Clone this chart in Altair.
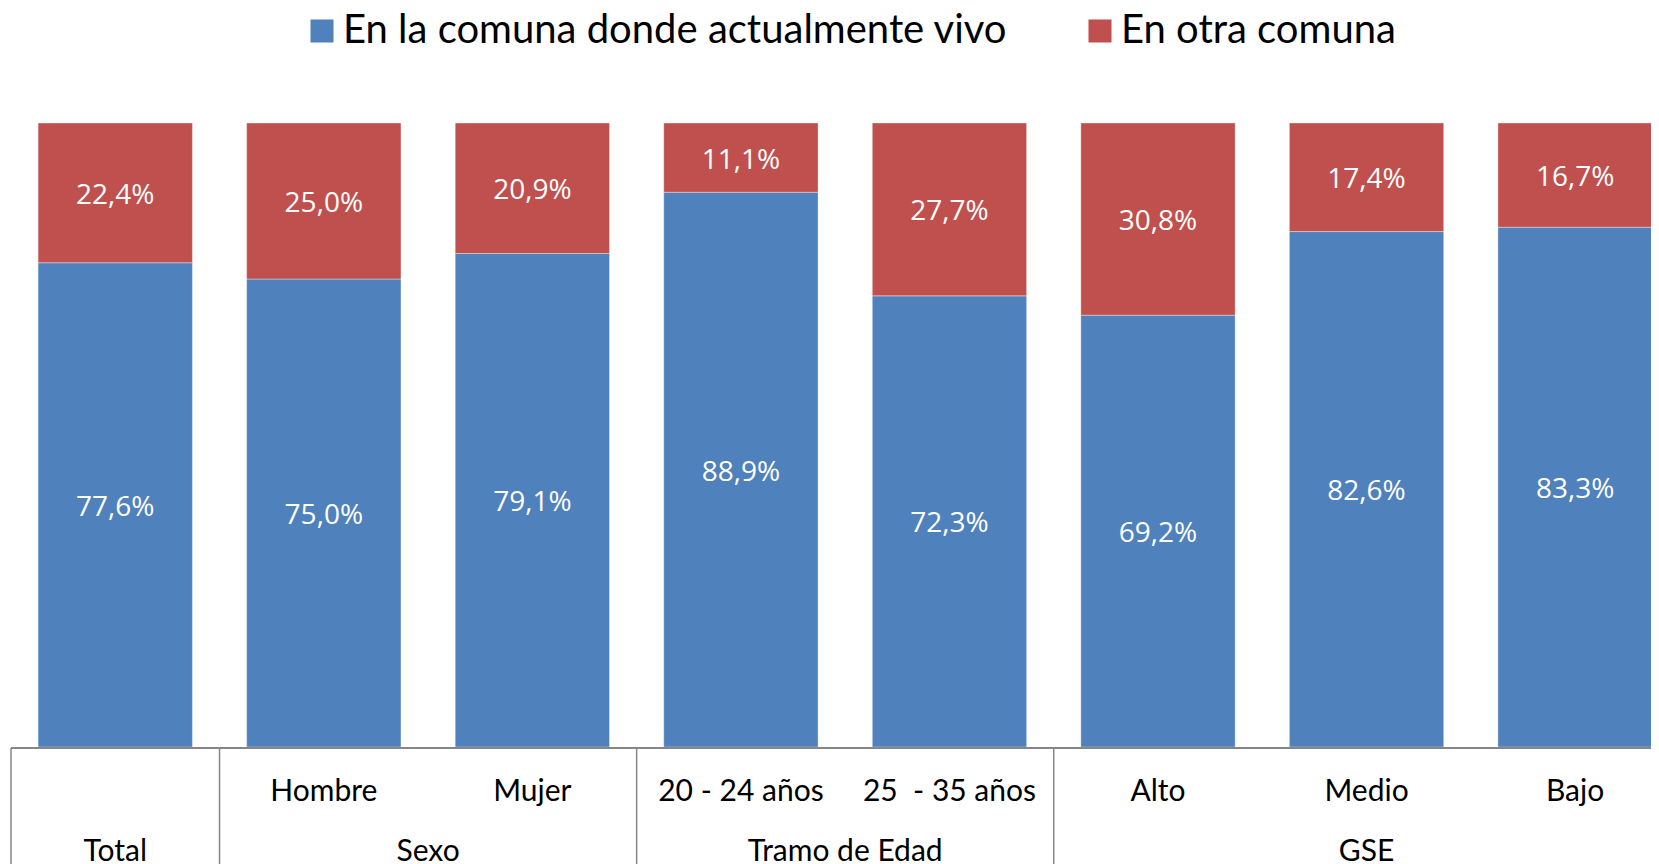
import altair as alt
import pandas as pd

categorias = ["Total", "Hombre", "Mujer", "20 - 24 años", "25\u00a0 - 35 años", "Alto", "Medio", "Bajo"]
en_comuna = [77.6, 75.0, 79.1, 88.9, 72.3, 69.2, 82.6, 83.3]
otra_comuna = [22.4, 25.0, 20.9, 11.1, 27.7, 30.8, 17.4, 16.7]
series = ["En la comuna donde actualmente vivo", "En otra comuna"]
colores = ["#4F81BD", "#C0504D"]
grupos = ["Total", "Sexo", "Tramo de Edad", "GSE"]
grupo_inicio = [0, 1, 3, 5]
grupo_fin = [0, 2, 4, 7]

W = 1640
H = 624

rows = []
for i, c in enumerate(categorias):
    rows.append({"categoria": c, "idx": i, "serie": series[0], "orden": 0, "value": en_comuna[i]})
    rows.append({"categoria": c, "idx": i, "serie": series[1], "orden": 1, "value": otra_comuna[i]})
df = pd.DataFrame(rows)

# category labels of the first axis row (single-category groups show only the group label)
df_cat = pd.DataFrame({"categoria": categorias, "idx": list(range(len(categorias)))})
df_cat_axis = df_cat[~df_cat["categoria"].isin(grupos)]
df_grp = pd.DataFrame({"grupo": grupos, "inicio": grupo_inicio, "fin": grupo_fin})

xscale = alt.Scale(domain=[-0.5, 7.364], nice=False, zero=False)
yscale = alt.Scale(domain=[0, 100], nice=False, zero=True)

base = alt.Chart(df).transform_stack(
    stack="value", groupby=["idx"], as_=["y0", "y1"], sort=[alt.SortField("orden")]
)

bars = base.transform_calculate(
    x0="datum.idx - 0.37", x1="datum.idx + 0.37"
).mark_bar(clip=True, stroke="#ffffff", strokeWidth=0.6, strokeOpacity=0.6).encode(
    x=alt.X("x0:Q", scale=xscale, axis=None),
    x2="x1:Q",
    y=alt.Y("y0:Q", scale=yscale, axis=None),
    y2="y1:Q",
    color=alt.Color(
        "serie:N",
        scale=alt.Scale(domain=series, range=colores),
        legend=alt.Legend(
            title=None,
            orient="none",
            direction="horizontal",
            legendX=291,
            legendY=-112,
            symbolType="square",
            symbolSize=530,
            symbolStrokeWidth=0,
            symbolOpacity=1,
            labelFont="Lato",
            labelFontSize=40,
            labelColor="#000000",
            labelOffset=1,
            columnPadding=72,
            padding=0,
            labelLimit=1000,
        ),
    ),
)

labels = base.transform_calculate(
    ymid="(datum.y0 + datum.y1) / 2",
    etiqueta="replace(format(datum.value, '.1f'), '.', ',') + '%'",
).mark_text(font="Open Sans", fontSize=28, color="white", baseline="middle", dy=3, clip=True).encode(
    x=alt.X("idx:Q", scale=xscale, axis=None),
    y=alt.Y("ymid:Q", scale=yscale, axis=None),
    text="etiqueta:N",
)

axis_line = alt.Chart(df_cat).mark_rule(color="#868686", strokeWidth=1.5).encode(
    x=alt.value(0), x2=alt.value(W), y=alt.value(H + 1)
)

cat_text = alt.Chart(df_cat_axis).mark_text(font="Lato", fontSize=30, color="black", baseline="middle").encode(
    x=alt.X("idx:Q", scale=xscale, axis=None),
    y=alt.value(H + 45),
    text="categoria:N",
)

grp_text = alt.Chart(df_grp).transform_calculate(
    centro="(datum.inicio + datum.fin) / 2"
).mark_text(font="Lato", fontSize=30, color="black", baseline="alphabetic").encode(
    x=alt.X("centro:Q", scale=xscale, axis=None),
    y=alt.value(H + 114),
    text="grupo:N",
)

seps = alt.Chart(df_grp).transform_calculate(
    limite="datum.inicio - 0.5"
).mark_rule(color="#868686", strokeWidth=1.5).encode(
    x=alt.X("limite:Q", scale=xscale, axis=None),
    y=alt.value(H + 1),
    y2=alt.value(H + 140),
)

chart = alt.layer(bars, labels, axis_line, seps, cat_text, grp_text).properties(
    width=W,
    height=H,
    background="white",
    autosize=alt.AutoSizeParams(type="none"),
    padding={"left": 3, "top": 115, "right": 0, "bottom": 125},
).configure_view(stroke=None)

chart.save("out.html", embed_options={"renderer": "svg", "actions": False})
